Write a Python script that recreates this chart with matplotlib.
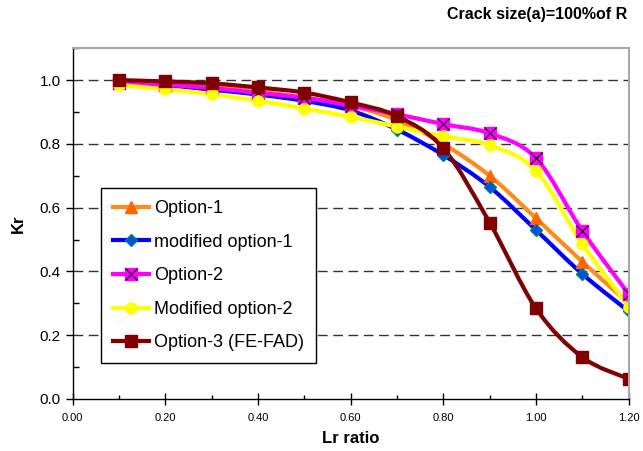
import numpy as np
import matplotlib
matplotlib.use('Agg')
from matplotlib import pyplot as plt
from matplotlib.path import Path
from matplotlib.patches import PathPatch
from matplotlib.ticker import MultipleLocator, FormatStrFormatter

plt.rcParams['font.family'] = ['Liberation Sans', 'DejaVu Sans']

# Lr ratio values and Kr for each assessment option
lr = [0.1, 0.2, 0.3, 0.4, 0.5, 0.6, 0.7, 0.8, 0.9, 1.0, 1.1, 1.2]
option1 = [1.00, 0.99, 0.98, 0.965, 0.945, 0.92, 0.875, 0.80, 0.70, 0.567, 0.43, 0.30]
mod_option1 = [0.995, 0.985, 0.97, 0.955, 0.935, 0.905, 0.845, 0.765, 0.665, 0.53, 0.392, 0.275]
option2 = [0.99, 0.985, 0.975, 0.96, 0.945, 0.92, 0.893, 0.862, 0.833, 0.755, 0.527, 0.329]
mod_option2 = [0.985, 0.971, 0.956, 0.935, 0.911, 0.885, 0.854, 0.824, 0.796, 0.715, 0.486, 0.29]
option3 = [1.00, 0.996, 0.99, 0.977, 0.961, 0.93, 0.887, 0.786, 0.553, 0.284, 0.131, 0.063]


def smooth_path(x, y):
    # Catmull-Rom style bezier through the points (like a spreadsheet "smoothed line")
    pts = np.column_stack([x, y])
    verts = [pts[0]]
    codes = [Path.MOVETO]
    n = len(pts)
    for i in range(n - 1):
        p0 = pts[max(i - 1, 0)]
        p1 = pts[i]
        p2 = pts[i + 1]
        p3 = pts[min(i + 2, n - 1)]
        c1 = p1 + (p2 - p0) / 6.0
        c2 = p2 - (p3 - p1) / 6.0
        verts += [c1, c2, p2]
        codes += [Path.CURVE4] * 3
    return Path(verts, codes)


fig = plt.figure(figsize=(6.43, 4.51), dpi=100)
ax = fig.add_axes([0.1128, 0.1153, 0.8650, 0.7777])

series = [
    (option1, '#FF8C1A', dict(marker='^', ms=8, mfc='#FF6600', mec='#FF6600'), 'Option-1'),
    (mod_option1, '#0000FF', dict(marker='D', ms=6.5, mfc='#0050E0', mec='#008080', mew=1), 'modified option-1'),
    (option2, '#FF00FF', dict(marker='s', ms=9, mfc='#FF00FF', mec='#FF00FF'), 'Option-2'),
    (mod_option2, '#FFFF00', dict(marker='o', ms=8, mfc='#FFFF00', mec='#FFFF00'), 'Modified option-2'),
    (option3, '#800000', dict(marker='s', ms=8, mfc='#800000', mec='#800000'), 'Option-3 (FE-FAD)'),
]

handles = []
for vals, col, mk, lab in series:
    patch = PathPatch(smooth_path(lr, vals), fill=False, edgecolor=col, lw=3,
                      capstyle='round', joinstyle='round', transform=ax.transData)
    ax.add_patch(patch)
    h, = ax.plot(lr, vals, ls='none', **mk)
    leg_line, = ax.plot([], [], color=col, lw=3, **mk)
    if lab == 'Option-2':
        # black cross drawn over the magenta squares
        ax.plot(lr, vals, ls='none', marker='x', ms=8, mec='black', mew=0.8)
        xh, = ax.plot([], [], ls='none', marker='x', ms=8, mec='black', mew=0.8)
        handles.append((leg_line, xh))
    else:
        handles.append(leg_line)

ax.set_xlim(0, 1.2)
ax.set_ylim(0, 1.1)
ax.xaxis.set_major_locator(MultipleLocator(0.2))
ax.xaxis.set_minor_locator(MultipleLocator(0.1))
ax.yaxis.set_major_locator(MultipleLocator(0.2))
ax.yaxis.set_minor_locator(MultipleLocator(0.1))
ax.xaxis.set_major_formatter(FormatStrFormatter('%.2f'))
ax.yaxis.set_major_formatter(FormatStrFormatter('%.1f'))

ax.tick_params(axis='x', which='major', direction='inout', length=8, width=1, labelsize=8, pad=6)
ax.tick_params(axis='x', which='minor', direction='in', length=3, width=1)
ax.tick_params(axis='y', which='major', direction='out', length=5, width=1, labelsize=11)
ax.tick_params(axis='y', which='minor', direction='in', length=4, width=1)

# dashed gridlines at the major Kr values
for yv in [0.2, 0.4, 0.6, 0.8, 1.0]:
    ax.axhline(yv, color='#333333', lw=1, ls=(0, (7, 4)), zorder=0.5)

ax.spines['top'].set_color('#A8A8A8')
ax.spines['right'].set_color('#A8A8A8')
ax.spines['top'].set_linewidth(1.5)
ax.spines['right'].set_linewidth(1.5)
ax.spines['left'].set_linewidth(1)
ax.spines['bottom'].set_linewidth(1)

ax.set_xlabel('Lr ratio', fontsize=12, weight='bold', labelpad=6)
ax.set_ylabel('Kr', fontsize=12, weight='bold', labelpad=10)

leg = ax.legend(handles, [s[3] for s in series], loc='lower left',
                bbox_to_anchor=(0.051, 0.102), borderaxespad=0, fontsize=13,
                frameon=True, fancybox=False, edgecolor='black', framealpha=1,
                labelspacing=0.92, handlelength=2.0, handletextpad=0.3,
                borderpad=0.65)
leg.get_frame().set_linewidth(1)

fig.text(627 / 643, 1 - 15 / 451, 'Crack size(a)=100%of R', ha='right', va='center',
         fontsize=11.5, weight='bold')

fig.savefig('out.png', dpi=100)
